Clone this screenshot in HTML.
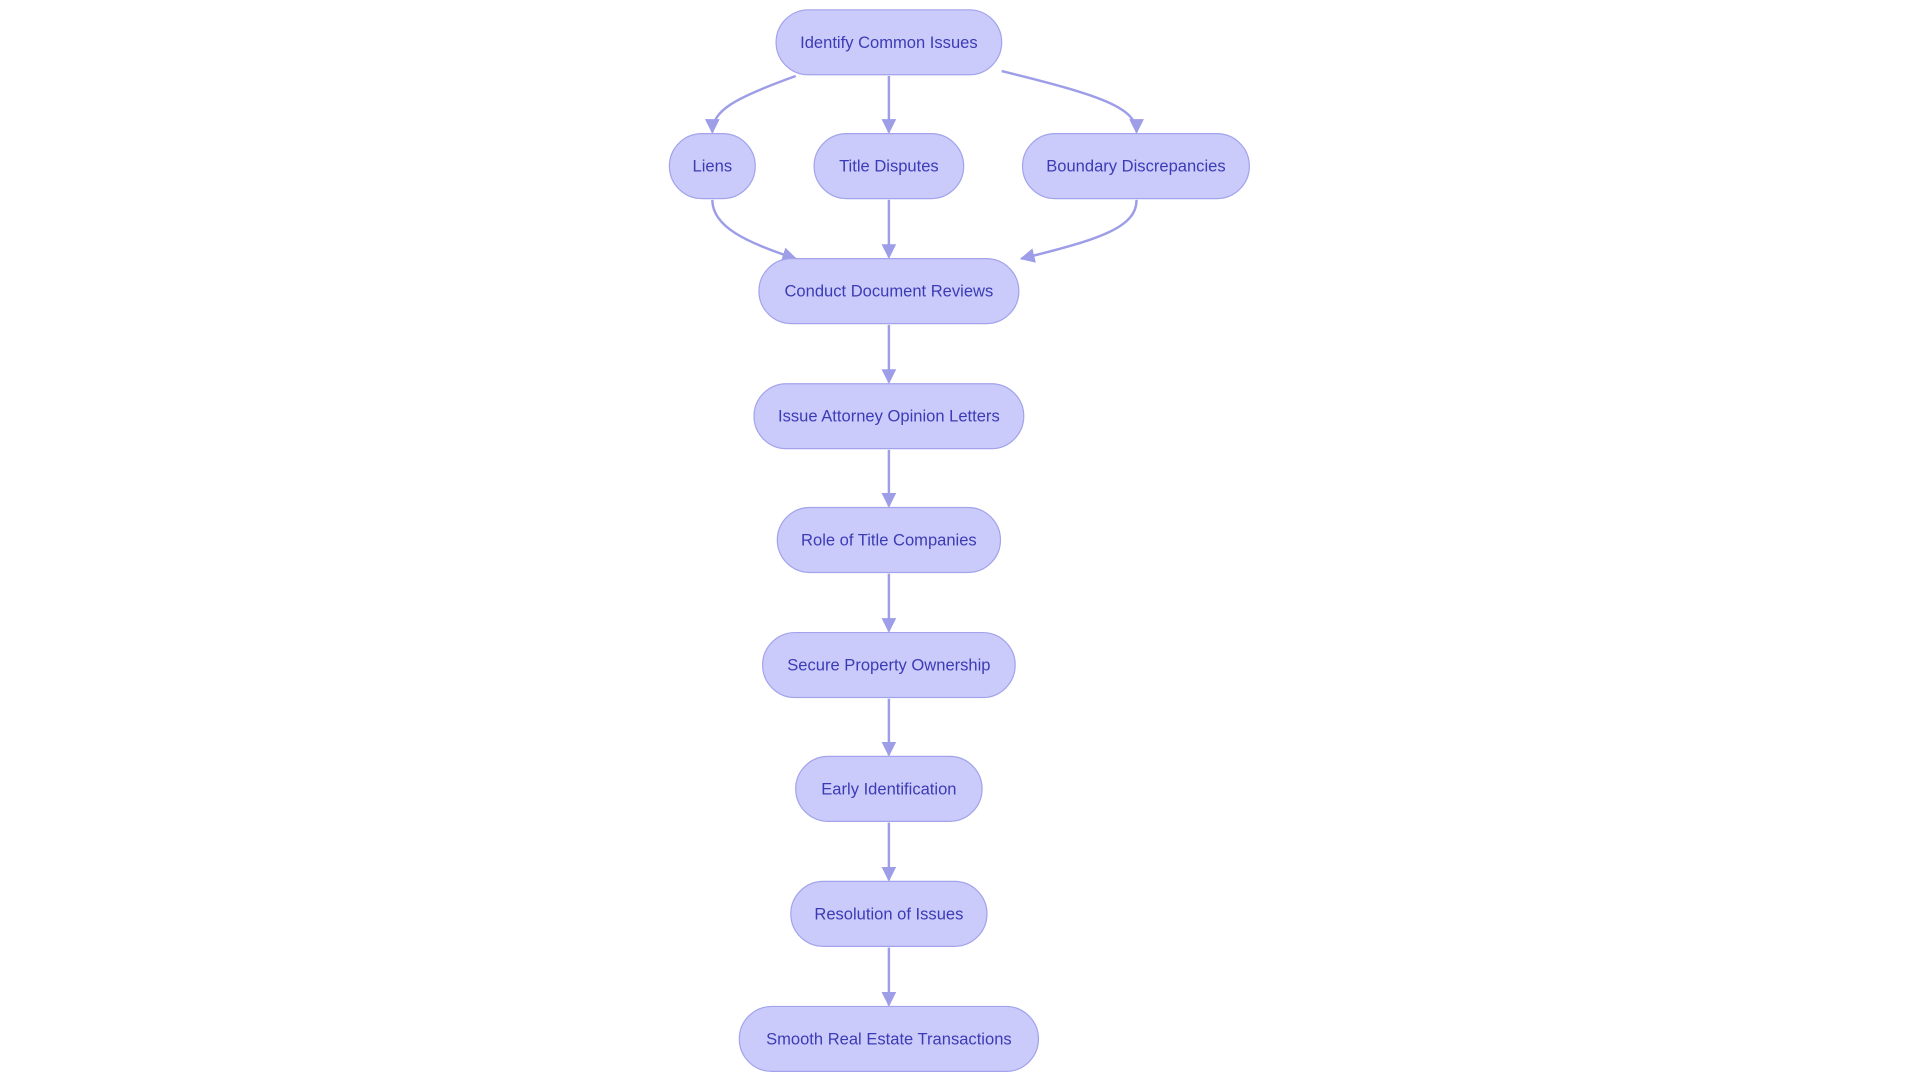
<!DOCTYPE html>
<html><head><meta charset="utf-8"><style>
html,body{margin:0;padding:0;background:#fff;}
svg{display:block;}
text{font-family:"Liberation Sans",sans-serif;font-size:13.5px;fill:#3b3bb5;text-anchor:middle;dominant-baseline:central;}
rect{fill:#cbcbfb;stroke:#a3a3ec;stroke-width:1;}
path{fill:none;stroke:#9d9de8;stroke-width:2;}
</style></head><body>
<svg width="1920" height="1080" viewBox="1 0 1566 881" preserveAspectRatio="none">
<defs><marker id="a" viewBox="0 0 10 10" refX="9" refY="5" markerWidth="6" markerHeight="6" orient="auto"><path d="M0,0L10,5L0,10z" style="fill:#9d9de8;stroke:none"/></marker></defs>
<path d="M650,62 C600,80 582,90 582,108" marker-end="url(#a)"/>
<path d="M726,62 L726,108" marker-end="url(#a)"/>
<path d="M818,58 C900,78 928,88 928,108" marker-end="url(#a)"/>
<path d="M582,163 C582,185 610,198 650,211" marker-end="url(#a)"/>
<path d="M726,163 L726,210" marker-end="url(#a)"/>
<path d="M928,163 C928,185 900,195 834,211" marker-end="url(#a)"/>
<path d="M726,265 L726,312" marker-end="url(#a)"/>
<path d="M726,367 L726,413" marker-end="url(#a)"/>
<path d="M726,468 L726,515" marker-end="url(#a)"/>
<path d="M726,570 L726,616" marker-end="url(#a)"/>
<path d="M726,671 L726,718" marker-end="url(#a)"/>
<path d="M726,773 L726,820" marker-end="url(#a)"/>
<rect x="634" y="8" width="184" height="53" rx="26.5"/><text x="726" y="34.5">Identify Common Issues</text>
<rect x="547" y="109" width="70" height="53" rx="26.5"/><text x="582" y="135.5">Liens</text>
<rect x="665" y="109" width="122" height="53" rx="26.5"/><text x="726" y="135.5">Title Disputes</text>
<rect x="835" y="109" width="185" height="53" rx="26.5"/><text x="927.5" y="135.5">Boundary Discrepancies</text>
<rect x="620" y="211" width="212" height="53" rx="26.5"/><text x="726" y="237.5">Conduct Document Reviews</text>
<rect x="616" y="313" width="220" height="53" rx="26.5"/><text x="726" y="339.5">Issue Attorney Opinion Letters</text>
<rect x="635" y="414" width="182" height="53" rx="26.5"/><text x="726" y="440.5">Role of Title Companies</text>
<rect x="623" y="516" width="206" height="53" rx="26.5"/><text x="726" y="542.5">Secure Property Ownership</text>
<rect x="650" y="617" width="152" height="53" rx="26.5"/><text x="726" y="643.5">Early Identification</text>
<rect x="646" y="719" width="160" height="53" rx="26.5"/><text x="726" y="745.5">Resolution of Issues</text>
<rect x="604" y="821" width="244" height="53" rx="26.5"/><text x="726" y="847.5">Smooth Real Estate Transactions</text>
</svg>
</body></html>
